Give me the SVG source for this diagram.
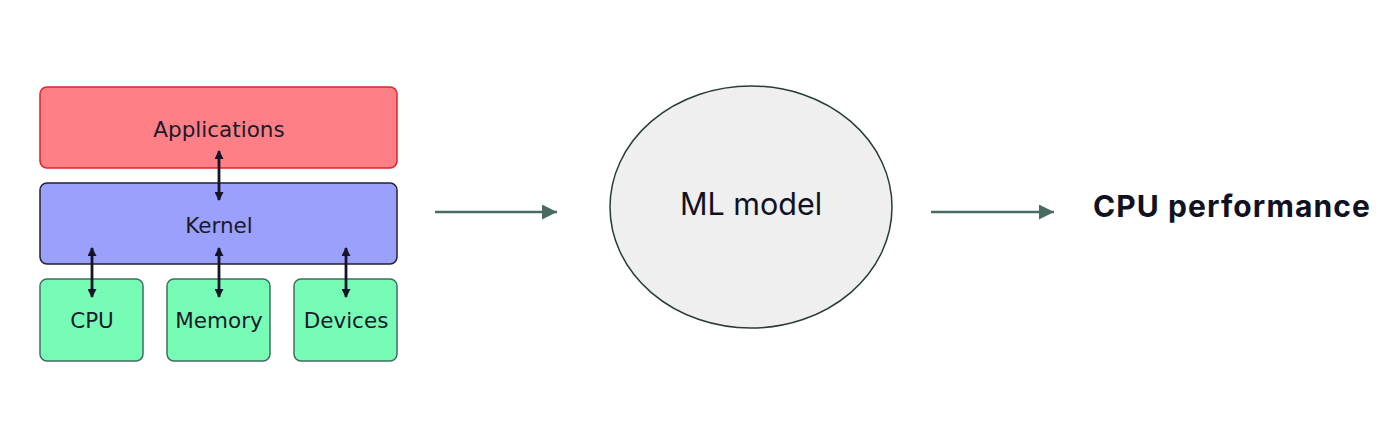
<svg xmlns="http://www.w3.org/2000/svg" width="1400" height="421" viewBox="0 0 1400 421">
<style>
.lbl{font-family:"DejaVu Sans",sans-serif;font-size:21.5px;fill:#1a1a2a;text-anchor:middle}
.hw{fill:#77fcb6;stroke:#3f6f5c;stroke-width:1.5}
.dbl{stroke:#15152a;stroke-width:2.8;fill:none;marker-start:url(#sh);marker-end:url(#sh)}
.flow{stroke:#4a6b63;stroke-width:2.5;fill:none;marker-end:url(#fh)}
</style>
<defs>
<marker id="sh" viewBox="0 0 10 10" refX="9" refY="5" markerWidth="10" markerHeight="9" markerUnits="userSpaceOnUse" orient="auto-start-reverse">
<path d="M0,0 L10,5 L0,10 Z" fill="#15152a"/>
</marker>
<marker id="fh" viewBox="0 0 10 10" refX="10" refY="5" markerWidth="21" markerHeight="15" markerUnits="userSpaceOnUse" orient="auto">
<path d="M0,0 L10,5 L0,10 Z" fill="#4a6b63"/>
</marker>
</defs>
<rect width="1400" height="421" fill="#ffffff"/>
<g id="applications">
<rect x="40" y="87" width="357" height="81" rx="7" fill="#ff7f87" stroke="#e0242a" stroke-width="1.5"/>
<text class="lbl" x="219" y="137">Applications</text>
</g>
<g id="kernel">
<rect x="40" y="183" width="357" height="81" rx="7" fill="#9aa0fb" stroke="#222233" stroke-width="1.5"/>
<text class="lbl" x="219" y="233">Kernel</text>
</g>
<g id="cpu">
<rect class="hw" x="40" y="279" width="103" height="82" rx="7"/>
<text class="lbl" x="92" y="328">CPU</text>
</g>
<g id="memory">
<rect class="hw" x="167" y="279" width="103" height="82" rx="7"/>
<text class="lbl" x="219" y="328">Memory</text>
</g>
<g id="devices">
<rect class="hw" x="294" y="279" width="103" height="82" rx="7"/>
<text class="lbl" x="346" y="328">Devices</text>
</g>
<g id="ml-model">
<ellipse cx="751" cy="207" rx="141" ry="121" fill="#efefef" stroke="#2a3a3a" stroke-width="1.5"/>
<text x="751" y="215" font-family="Inter, sans-serif" font-size="30.5" fill="#111122" text-anchor="middle">ML model</text>
</g>
<g id="cpu-performance">
<text x="1093" y="217" font-family="Inter, sans-serif" font-size="30" font-weight="bold" letter-spacing="1.1" fill="#111122">CPU performance</text>
</g>
<g id="connectors">
<line class="dbl" x1="219" y1="151" x2="219" y2="200"/>
<line class="dbl" x1="92" y1="248" x2="92" y2="297"/>
<line class="dbl" x1="219" y1="248" x2="219" y2="297"/>
<line class="dbl" x1="346" y1="248" x2="346" y2="297"/>
<line class="flow" x1="435" y1="212" x2="557" y2="212"/>
<line class="flow" x1="931" y1="212" x2="1054" y2="212"/>
</g>
</svg>
